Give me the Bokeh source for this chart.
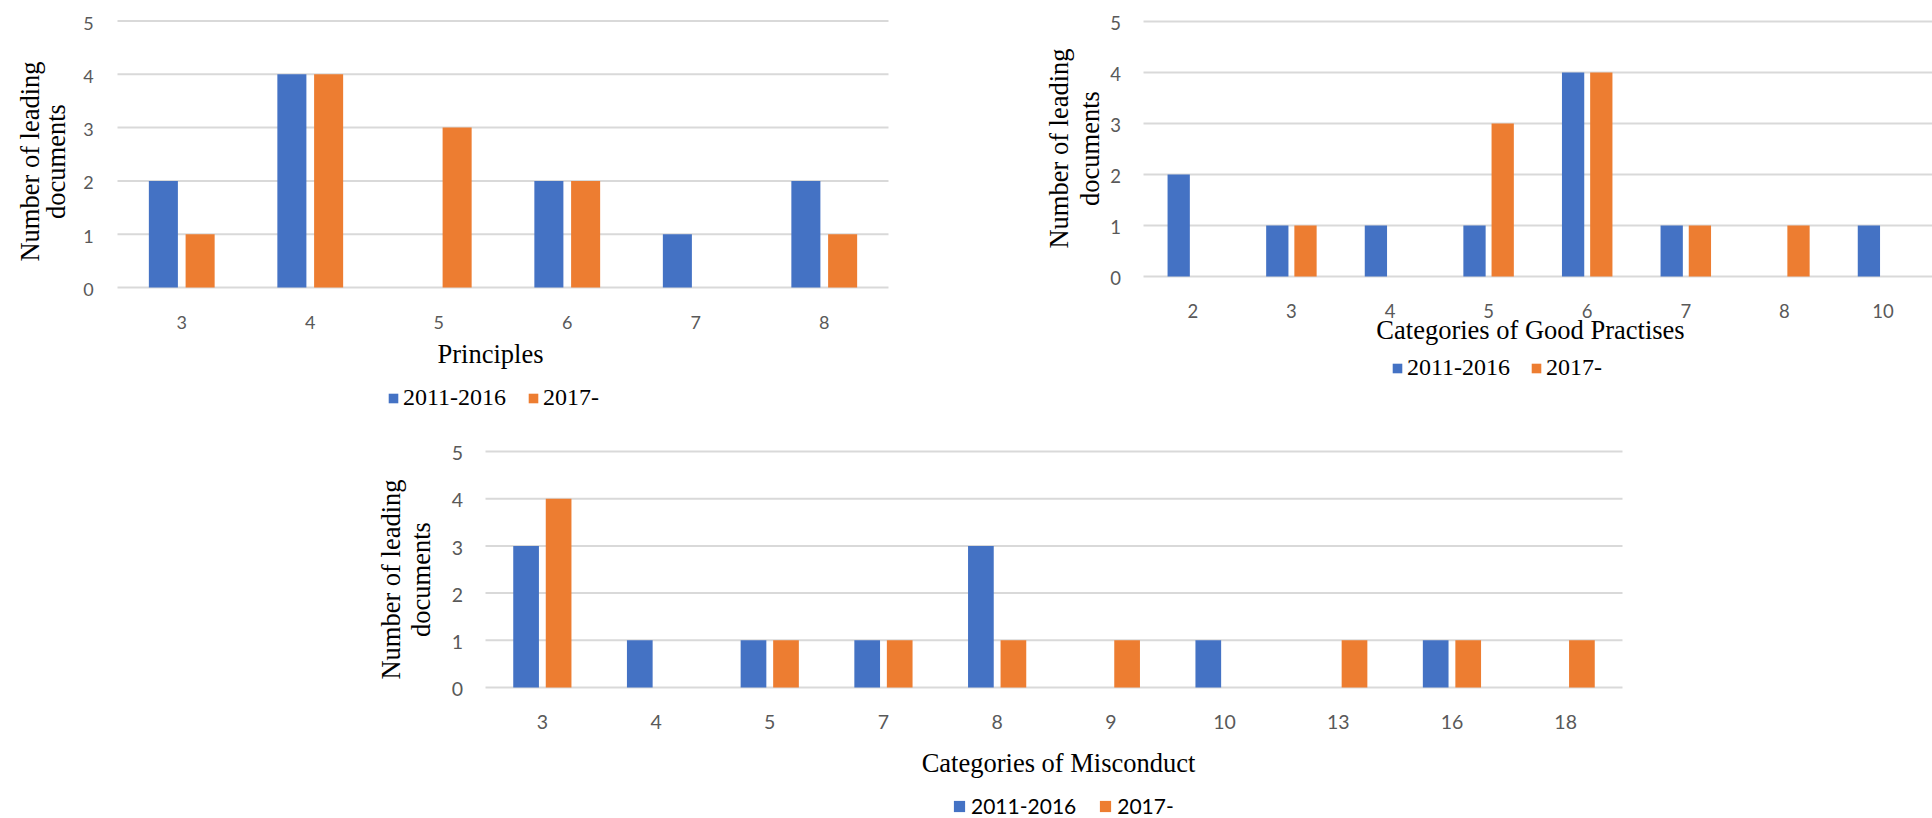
import math
from bokeh.plotting import figure
from bokeh.models import Range1d, Label, Legend, LegendItem, ColumnDataSource
from bokeh.transform import dodge
from bokeh.core.properties import value
from bokeh.layouts import column, row
from bokeh.embed import file_html
from bokeh.resources import INLINE

# ---------------- data ----------------
series_names = ["2011-2016", "2017-"]

principles_cats = ["3", "4", "5", "6", "7", "8"]
principles_2011 = [2, 4, 0, 2, 1, 2]
principles_2017 = [1, 4, 3, 2, 0, 1]

practises_cats = ["2", "3", "4", "5", "6", "7", "8", "10"]
practises_2011 = [2, 1, 1, 1, 4, 1, 0, 1]
practises_2017 = [0, 1, 0, 3, 4, 1, 1, 0]

misconduct_cats = ["3", "4", "5", "7", "8", "9", "10", "13", "16", "18"]
misconduct_2011 = [3, 1, 1, 1, 3, 0, 1, 0, 1, 0]
misconduct_2017 = [4, 0, 1, 1, 1, 1, 0, 1, 1, 1]

y_ticks = [0, 1, 2, 3, 4, 5]
y_title = ["Number of leading", "documents"]

BLUE = "#4472C4"
ORANGE = "#ED7D31"
GRID = "#d9d9d9"
TICK = "#595959"
SERIF = "Liberation Serif"
SANS = "Lato"


def make_chart(cats, a, b, width, height, xr, yr, tick_size, xlab_y,
               ylab_x, ylab_dy, xtitle, xtitle_pos, ytitle_pos, leg_loc,
               leg_font, leg_size, leg_glyph, leg_standoff, leg_spacing):
    n = len(cats)
    centers = [i + 0.5 for i in range(n)]
    src = ColumnDataSource(dict(x=centers, cat=cats, a=a, b=b))
    p = figure(width=width, height=height, x_range=Range1d(*xr),
               y_range=Range1d(*yr), x_axis_location=None,
               y_axis_location=None, min_border=0, output_backend="svg",
               toolbar_location=None)
    p.outline_line_color = None
    p.background_fill_color = "white"
    p.border_fill_color = "white"
    for g in p.grid:
        g.visible = False

    # horizontal grid lines across the category band
    p.segment(x0=[0] * len(y_ticks), x1=[n] * len(y_ticks), y0=y_ticks,
              y1=y_ticks, line_color=GRID, line_width=2)

    r1 = p.vbar(x=dodge("x", -0.143), top="a", width=0.226, source=src,
                fill_color=BLUE, line_color=None)
    r2 = p.vbar(x=dodge("x", 0.143), top="b", width=0.226, source=src,
                fill_color=ORANGE, line_color=None)

    # category tick labels
    p.text(x="x", y=xlab_y, text="cat", source=src, text_font=value(SANS),
           text_font_size=tick_size, text_color=TICK, text_align="center",
           text_baseline="alphabetic")
    # value tick labels
    p.text(x=[ylab_x] * len(y_ticks), y=[t - ylab_dy for t in y_ticks],
           text=[str(t) for t in y_ticks], text_font=value(SANS),
           text_font_size=tick_size, text_color=TICK, text_align="center",
           text_baseline="alphabetic")

    # axis titles
    p.add_layout(Label(x=xtitle_pos[0], y=xtitle_pos[1], text=xtitle,
                       text_font=SERIF, text_font_size="26.5px",
                       text_color="black", text_align="center",
                       text_baseline="alphabetic"))
    for txt, xx in zip(y_title, ytitle_pos[0]):
        p.add_layout(Label(x=xx, y=ytitle_pos[1], text=txt, angle=math.pi / 2,
                           text_font=SERIF, text_font_size="26.5px",
                           text_color="black", text_align="center",
                           text_baseline="alphabetic"))

    legend = Legend(items=[LegendItem(label=series_names[0], renderers=[r1]),
                           LegendItem(label=series_names[1], renderers=[r2])],
                    orientation="horizontal", location=leg_loc,
                    label_text_font=leg_font, label_text_font_size=leg_size,
                    label_text_color="black", glyph_width=leg_glyph,
                    glyph_height=leg_glyph, label_standoff=leg_standoff,
                    spacing=leg_spacing, padding=0, margin=0,
                    border_line_color=None, background_fill_alpha=0)
    p.add_layout(legend)
    return p


# chart 1 : figure 1000x420 at (0,0); band x 117..888 (128.5 px/unit); 0 at y 287 (53.3 px/unit)
p1 = make_chart(principles_cats, principles_2011, principles_2017,
                width=1000, height=420, xr=(-0.9105, 6.8716),
                yr=(-2.4953, 5.3846), tick_size="18px", xlab_y=-0.653,
                ylab_x=-0.2257, ylab_dy=0.039,
                xtitle="Principles", xtitle_pos=(2.903, -1.253),
                ytitle_pos=((-0.684, -0.476), 2.364),
                leg_loc=(387, 9), leg_font=SERIF, leg_size="24px",
                leg_glyph=12, leg_standoff=4, leg_spacing=21)

# chart 2 : figure 932x420 at (1000,0); band x 1143..1932 (98.6 px/unit); 0 at y 276 (51 px/unit)
p2 = make_chart(practises_cats, practises_2011, practises_2017,
                width=932, height=420, xr=(-1.4503, 8.002),
                yr=(-2.8235, 5.4118), tick_size="18.5px", xlab_y=-0.667,
                ylab_x=-0.284, ylab_dy=0.032,
                xtitle="Categories of Good Practises", xtitle_pos=(3.925, -1.055),
                ytitle_pos=((-0.854, -0.540), 2.51),
                leg_loc=(391, 39), leg_font=SERIF, leg_size="24px",
                leg_glyph=12, leg_standoff=4, leg_spacing=20)

# chart 3 : figure 1932x398 at (0,420); band x 485..1622 (113.7 px/unit); 0 at y 687 (47.2 px/unit)
p3 = make_chart(misconduct_cats, misconduct_2011, misconduct_2017,
                width=1932, height=398, xr=(-4.2656, 12.7265),
                yr=(-2.7754, 5.6568), tick_size="19.5px", xlab_y=-0.729,
                ylab_x=-0.246, ylab_dy=0.036,
                xtitle="Categories of Misconduct", xtitle_pos=(5.040, -1.605),
                ytitle_pos=((-0.834, -0.564), 2.288),
                leg_loc=(952, 0), leg_font=SANS, leg_size="21px",
                leg_glyph=14, leg_standoff=5, leg_spacing=22)

layout = column(row(p1, p2, spacing=0), p3, spacing=0)

open("out.html", "w").write(file_html(layout, INLINE))
